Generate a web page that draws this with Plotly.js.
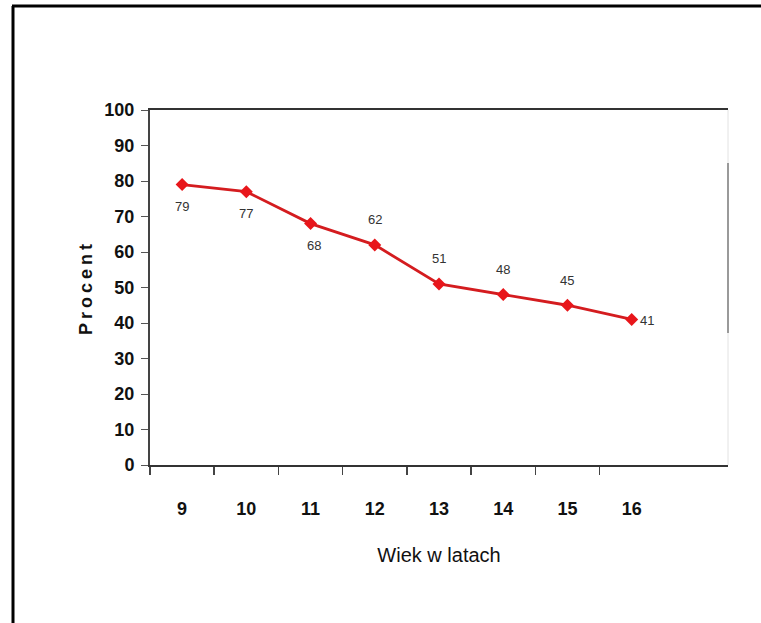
<!DOCTYPE html>
<html>
<head>
<meta charset="utf-8">
<script src="https://cdn.plot.ly/plotly-3.0.1.min.js"></script>
<style>
html, body { margin: 0; padding: 0; background: #fff; }
#chart { width: 761px; height: 623px; }
.ytitle { letter-spacing: 4px; }
</style>
</head>
<body>
<div id="chart"></div>
<script>
// Data
const ages = [9, 10, 11, 12, 13, 14, 15, 16];
const percent = [79, 77, 68, 62, 51, 48, 45, 41];
const labelPos = ['below', 'below', 'below', 'above', 'above', 'above', 'above', 'right'];
const yTicks = [0, 10, 20, 30, 40, 50, 60, 70, 80, 90, 100];
const xTitle = 'Wiek w latach';
const yTitle = 'Procent';

const boundaries = ages.map(a => a - 0.5);

const W = 761, H = 623;
const L = 150, R = 33, T = 110, B = 158;
const pw = W - L - R, ph = H - T - B;
const px2x = p => (p - L) / pw;
const px2y = p => (H - B - p) / ph;

const FONT = '"Liberation Sans", Arial, sans-serif';

const trace = {
  x: ages,
  y: percent,
  type: 'scatter',
  mode: 'lines+markers',
  line: { color: '#d41c1f', width: 2.8 },
  marker: { symbol: 'diamond', size: 10, color: '#e8161b' },
  hoverinfo: 'x+y',
  showlegend: false
};

const annotations = ages.map((a, i) => {
  const pos = labelPos[i];
  const ann = {
    x: a, y: percent[i], xref: 'x', yref: 'y',
    text: String(percent[i]), showarrow: false,
    font: { family: FONT, size: 13, color: '#333' }
  };
  if (pos === 'below') { ann.yshift = -22; if (i === 2) ann.xshift = 3; }
  else if (pos === 'above') { ann.yshift = 25; }
  else { ann.xshift = 15; ann.yshift = -1; }
  return ann;
});

const shapes = [
  // outer frame (left + top)
  { type: 'line', xref: 'paper', yref: 'paper', x0: px2x(13), x1: px2x(13), y0: px2y(H + 2), y1: px2y(6), line: { color: '#000', width: 3 } },
  { type: 'line', xref: 'paper', yref: 'paper', x0: px2x(12), x1: px2x(W + 2), y0: px2y(6), y1: px2y(6), line: { color: '#000', width: 3 } },
  // right edge of plot area
  { type: 'line', xref: 'paper', yref: 'paper', x0: 1, x1: 1, y0: 0, y1: 1, line: { color: '#e2e2e2', width: 1 } },
  { type: 'line', xref: 'paper', yref: 'paper', x0: 1, x1: 1, y0: px2y(333), y1: px2y(163), line: { color: '#9a9a9a', width: 2 } }
];

const tickFont = { family: FONT, size: 18, color: '#111', weight: 'bold' };

const layout = {
  width: W, height: H,
  margin: { l: L, r: R, t: T, b: B, pad: 0 },
  paper_bgcolor: '#fff', plot_bgcolor: '#fff',
  xaxis: {
    range: [8.5, 17.5],
    tickmode: 'array', tickvals: ages, ticktext: ages.map(String),
    ticks: '', ticklabelstandoff: 26,
    tickfont: tickFont,
    showgrid: false, zeroline: false,
    showline: true, linecolor: '#333', linewidth: 2, mirror: true,
    minor: { tickmode: 'array', tickvals: boundaries, ticks: 'outside', ticklen: 8, tickcolor: '#444', tickwidth: 1.5, showgrid: false },
    title: { text: xTitle, standoff: 30, font: { family: FONT, size: 20, color: '#111' } },
    fixedrange: true
  },
  yaxis: {
    range: [0, 100],
    tickmode: 'array', tickvals: yTicks, ticktext: yTicks.map(String),
    ticks: 'outside', ticklen: 7, tickcolor: '#555', tickwidth: 1,
    ticklabelstandoff: 3,
    tickfont: tickFont,
    showgrid: false, zeroline: false,
    showline: true, linecolor: '#444', linewidth: 2,
    title: { text: yTitle, standoff: 7, font: { family: FONT, size: 18, color: '#111', weight: 'bold' } },
    fixedrange: true
  },
  annotations: annotations,
  shapes: shapes
};

Plotly.newPlot('chart', [trace], layout, { displayModeBar: false, staticPlot: true });
</script>
</body>
</html>
